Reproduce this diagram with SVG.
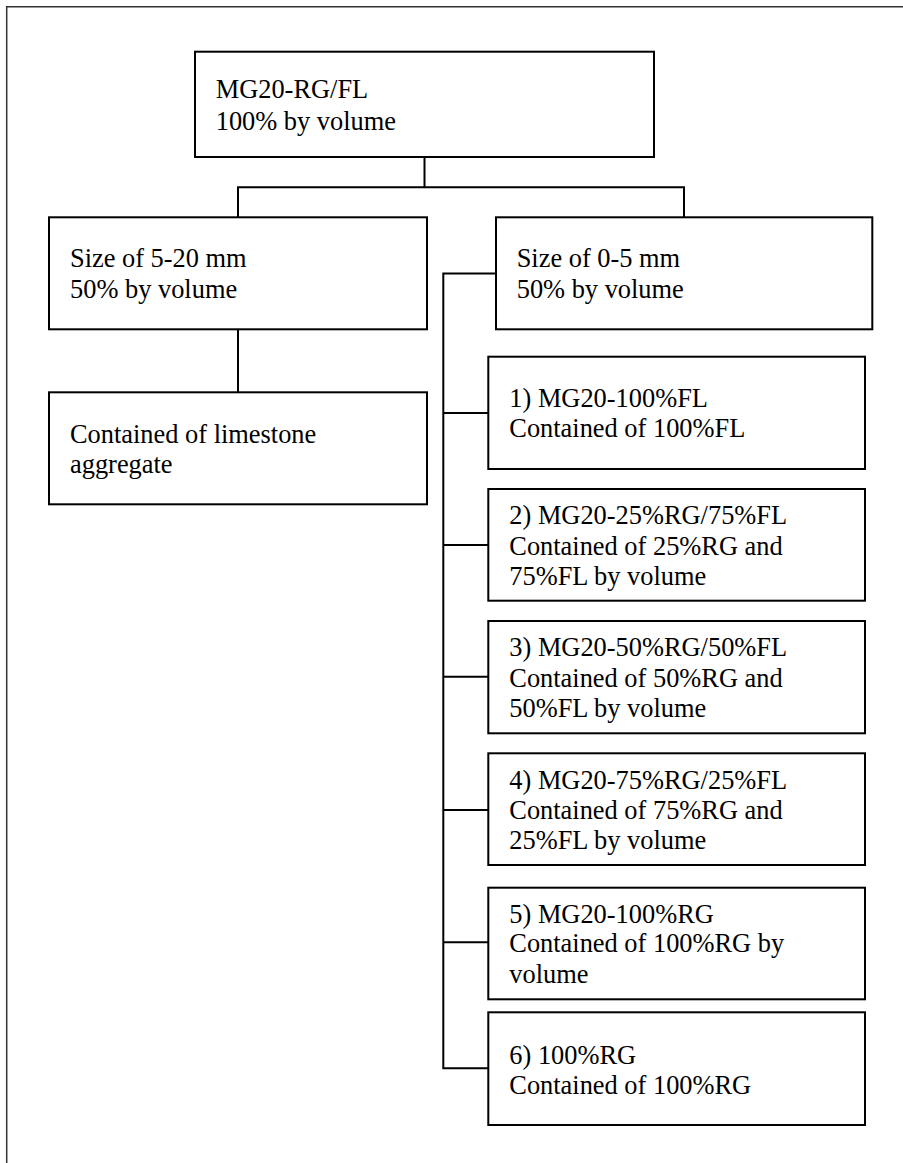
<svg xmlns="http://www.w3.org/2000/svg" width="903" height="1163" viewBox="0 0 903 1163">
<style>
.box{fill:#fff;stroke:#000;stroke-width:2}
.ln{fill:none;stroke:#000;stroke-width:2}
.frame{fill:none;stroke:#333;stroke-width:1.5}
.t{font-family:'Liberation Serif','Times New Roman','DejaVu Serif',serif;font-size:26.4px;fill:#000}
</style>
<rect width="903" height="1163" fill="#fff"/>
<path class="frame" d="M6.7,1163 V6.7 H903"/>
<g id="connectors">
<path class="ln" d="M424.5,157 V187.3"/>
<path class="ln" d="M238,217 V187.3 H684 V217"/>
<path class="ln" d="M238,329 V392"/>
<path class="ln" d="M496,273.5 H443.3 V1068.3 H488"/>
<path class="ln" d="M443.3,413 H488"/>
<path class="ln" d="M443.3,545 H488"/>
<path class="ln" d="M443.3,676.7 H488"/>
<path class="ln" d="M443.3,810 H488"/>
<path class="ln" d="M443.3,942.3 H488"/>
</g>
<g class="t" font-family="Liberation Serif, serif" font-size="26.4">
<g id="root">
<rect class="box" x="195" y="51.7" width="459" height="105.3"/>
<text x="215.7" y="98.3">MG20-RG/FL</text>
<text x="215.7" y="130">100% by volume</text>
</g>
<g id="coarse">
<rect class="box" x="49" y="217.3" width="378" height="112"/>
<text x="70" y="267">Size of 5-20 mm</text>
<text x="70" y="298">50% by volume</text>
</g>
<g id="fine">
<rect class="box" x="496" y="217.3" width="376.3" height="112"/>
<text x="516.7" y="266.7">Size of 0-5 mm</text>
<text x="516.7" y="298.3">50% by volume</text>
</g>
<g id="limestone">
<rect class="box" x="49" y="392.3" width="378" height="112"/>
<text x="70" y="442.7">Contained of limestone</text>
<text x="70" y="473.3">aggregate</text>
</g>
<g id="mix1">
<rect class="box" x="488.3" y="356.7" width="376.7" height="112.3"/>
<text x="509.3" y="406.7">1) MG20-100%FL</text>
<text x="509.3" y="437.3">Contained of 100%FL</text>
</g>
<g id="mix2">
<rect class="box" x="488.3" y="489" width="376.7" height="111.7"/>
<text x="509.3" y="524.3">2) MG20-25%RG/75%FL</text>
<text x="509.3" y="555">Contained of 25%RG and</text>
<text x="509.3" y="585">75%FL by volume</text>
</g>
<g id="mix3">
<rect class="box" x="488.3" y="621" width="376.7" height="112.3"/>
<text x="509.3" y="656">3) MG20-50%RG/50%FL</text>
<text x="509.3" y="686.7">Contained of 50%RG and</text>
<text x="509.3" y="717.3">50%FL by volume</text>
</g>
<g id="mix4">
<rect class="box" x="488.3" y="753.3" width="376.7" height="111.7"/>
<text x="509.3" y="789">4) MG20-75%RG/25%FL</text>
<text x="509.3" y="819">Contained of 75%RG and</text>
<text x="509.3" y="849.3">25%FL by volume</text>
</g>
<g id="mix5">
<rect class="box" x="488.3" y="887.7" width="376.7" height="111.6"/>
<text x="509.3" y="922.7">5) MG20-100%RG</text>
<text x="509.3" y="952.3">Contained of 100%RG by</text>
<text x="509.3" y="983.3">volume</text>
</g>
<g id="mix6">
<rect class="box" x="488.3" y="1012.3" width="376.7" height="112.7"/>
<text x="509.3" y="1064">6) 100%RG</text>
<text x="509.3" y="1094">Contained of 100%RG</text>
</g>
</g>
</svg>
